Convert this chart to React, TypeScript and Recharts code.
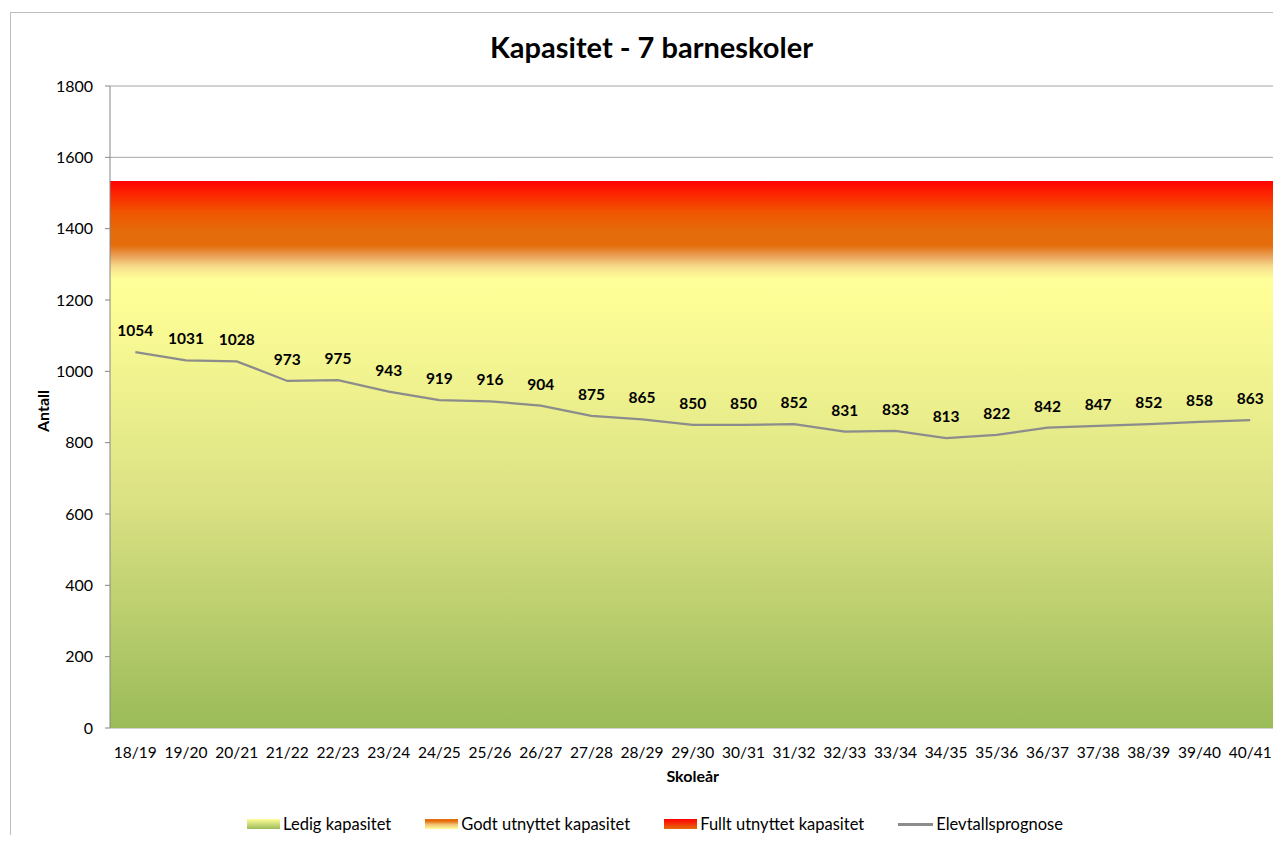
import {
  Area,
  CartesianGrid,
  ComposedChart,
  Label,
  LabelList,
  Legend,
  Line,
  XAxis,
  YAxis
} from "recharts";

const years = [
  "18/19", "19/20", "20/21", "21/22", "22/23", "23/24", "24/25", "25/26",
  "26/27", "27/28", "28/29", "29/30", "30/31", "31/32", "32/33", "33/34",
  "34/35", "35/36", "36/37", "37/38", "38/39", "39/40", "40/41"
];
const students = [
  1054, 1031, 1028, 973, 975, 943, 919, 916, 904, 875, 865, 850,
  850, 852, 831, 833, 813, 822, 842, 847, 852, 858, 863
];
const yTicks = [0, 200, 400, 600, 800, 1000, 1200, 1400, 1600, 1800];
// upper limit of each capacity zone: ledig, godt utnyttet, fullt utnyttet
const zoneTops = [1260, 1390, 1535];
const zoneNames = ["Ledig kapasitet", "Godt utnyttet kapasitet", "Fullt utnyttet kapasitet"];

const rows = years.map((year, i) => ({ year, students: students[i] }));
// the zones run across the whole plot, edge to edge
const zoneRows = [0, years.length].map((edge) => ({
  edge,
  ledig: [0, zoneTops[0]],
  godt: [zoneTops[0], zoneTops[1]],
  fullt: [zoneTops[1], zoneTops[2]]
}));
const edgeTicks = [...years.map((_, i) => i), years.length];

const AXIS = "#868686";
const LINE = "#8c8c8c";

const swatches: Record<string, string> = {
  ledig: "linear-gradient(to top, #9bbb59, #ffff99)",
  godt: "linear-gradient(to top, #ffff99, #f2c072 45%, #e46c0a 80%)",
  fullt: "linear-gradient(to top, #e46c0a, #ff0000)"
};
const legendOrder = ["ledig", "godt", "fullt", "students"];

function ChartLegend({ payload }: any) {
  const items = [...(payload || [])].sort(
    (a: any, b: any) => legendOrder.indexOf(a.dataKey) - legendOrder.indexOf(b.dataKey)
  );
  return (
    <div
      style={{
        display: "flex",
        justifyContent: "center",
        gap: 34,
        paddingLeft: 18,
        fontSize: 16.5,
        lineHeight: "18px",
        color: "#000"
      }}
    >
      {items.map((item: any) => (
        <div key={item.dataKey} style={{ display: "flex", alignItems: "center" }}>
          {swatches[item.dataKey] ? (
            <span style={{ display: "inline-block", width: 33, height: 10, background: swatches[item.dataKey] }} />
          ) : (
            <span style={{ display: "inline-block", width: 35, height: 3, background: LINE }} />
          )}
          <span style={{ marginLeft: 3 }}>{item.value}</span>
        </div>
      ))}
    </div>
  );
}

export default function App() {
  return (
    <div style={{ paddingTop: 4, paddingLeft: 2 }}>
      <div
        style={{
          position: "relative",
          width: 1270,
          height: 822,
          borderLeft: "1px solid #bdbdbd",
          borderTop: "1px solid #bdbdbd",
          overflow: "hidden",
          fontFamily: "Lato, sans-serif",
          background: "#fff"
        }}
      >
        <div
          style={{
            position: "absolute",
            top: 17,
            left: 0,
            width: 1281,
            lineHeight: "34px",
            fontSize: 29,
            fontWeight: 700,
            textAlign: "center",
            color: "#000",
            zIndex: 1
          }}
        >
          Kapasitet - 7 barneskoler
        </div>
        <ComposedChart
          width={1270}
          height={822}
          data={rows}
          margin={{ top: 73, right: 5.5, left: 0, bottom: 77 }}
        >
          <defs>
            <linearGradient id="ledigFill" x1="0" y1="0" x2="0" y2="1">
              <stop offset="0" stopColor="#ffff99" />
              <stop offset="0.06" stopColor="#fdfd96" />
              <stop offset="0.5" stopColor="#dae183" />
              <stop offset="1" stopColor="#9bbb59" />
            </linearGradient>
            <linearGradient id="godtFill" x1="0" y1="0" x2="0" y2="1">
              <stop offset="0" stopColor="#e46c0a" />
              <stop offset="0.28" stopColor="#e46c0a" />
              <stop offset="0.52" stopColor="#e9a25a" />
              <stop offset="0.74" stopColor="#f7dc8c" />
              <stop offset="1" stopColor="#ffff99" />
            </linearGradient>
            <linearGradient id="fulltFill" x1="0" y1="0" x2="0" y2="1">
              <stop offset="0" stopColor="#ff0000" />
              <stop offset="0.3" stopColor="#fb2a00" />
              <stop offset="0.6" stopColor="#f05400" />
              <stop offset="1" stopColor="#e46c0a" />
            </linearGradient>
          </defs>
          <CartesianGrid xAxisId="cat" vertical={false} stroke="#a6a6a6" />
          <XAxis
            xAxisId="span"
            type="number"
            dataKey="edge"
            domain={[0, years.length]}
            ticks={edgeTicks}
            interval={0}
            height={0}
            tick={false}
            tickSize={5}
            stroke={AXIS}
            tickLine={{ stroke: AXIS }}
            axisLine={{ stroke: AXIS }}
          />
          <XAxis
            xAxisId="cat"
            dataKey="year"
            scale="band"
            interval={0}
            height={30}
            tickLine={false}
            axisLine={false}
            tickSize={6}
            tickMargin={13}
            tick={{ fontSize: 15.5, fill: "#000" }}
          >
            <Label
              value="Skoleår"
              position="bottom"
              offset={13}
              style={{ fontSize: 16, fontWeight: 700, fill: "#000" }}
            />
          </XAxis>
          <YAxis
            domain={[0, 1800]}
            ticks={yTicks}
            interval={0}
            width={99}
            tickSize={5}
            tickMargin={12}
            stroke={AXIS}
            tick={{ fontSize: 16, fill: "#000" }}
          >
            <Label
              value="Antall"
              angle={-90}
              position="insideLeft"
              offset={32}
              dy={4}
              style={{ fontSize: 16, fontWeight: 700, fill: "#000", textAnchor: "middle" }}
            />
          </YAxis>
          <Area
            xAxisId="span"
            data={zoneRows}
            dataKey="ledig"
            name={zoneNames[0]}
            type="linear"
            stroke="none"
            fill="url(#ledigFill)"
            fillOpacity={1}
            style={{ shapeRendering: "crispEdges" }}
            isAnimationActive={false}
          />
          <Area
            xAxisId="span"
            data={zoneRows}
            dataKey="godt"
            name={zoneNames[1]}
            type="linear"
            stroke="none"
            fill="url(#godtFill)"
            fillOpacity={1}
            style={{ shapeRendering: "crispEdges" }}
            isAnimationActive={false}
          />
          <Area
            xAxisId="span"
            data={zoneRows}
            dataKey="fullt"
            name={zoneNames[2]}
            type="linear"
            stroke="none"
            fill="url(#fulltFill)"
            fillOpacity={1}
            style={{ shapeRendering: "crispEdges" }}
            isAnimationActive={false}
          />
          <Line
            xAxisId="cat"
            dataKey="students"
            name="Elevtallsprognose"
            type="linear"
            stroke={LINE}
            strokeWidth={2.25}
            dot={false}
            isAnimationActive={false}
          >
            <LabelList
              dataKey="students"
              position="top"
              offset={16}
              style={{ fontSize: 15.5, fontWeight: 700, fill: "#000" }}
            />
          </Line>
          <Legend
            verticalAlign="middle"
            align="center"
            layout="horizontal"
            content={<ChartLegend />}
            wrapperStyle={{ top: 802, left: 0, width: 1270, height: 18 }}
          />
        </ComposedChart>
      </div>
    </div>
  );
}
